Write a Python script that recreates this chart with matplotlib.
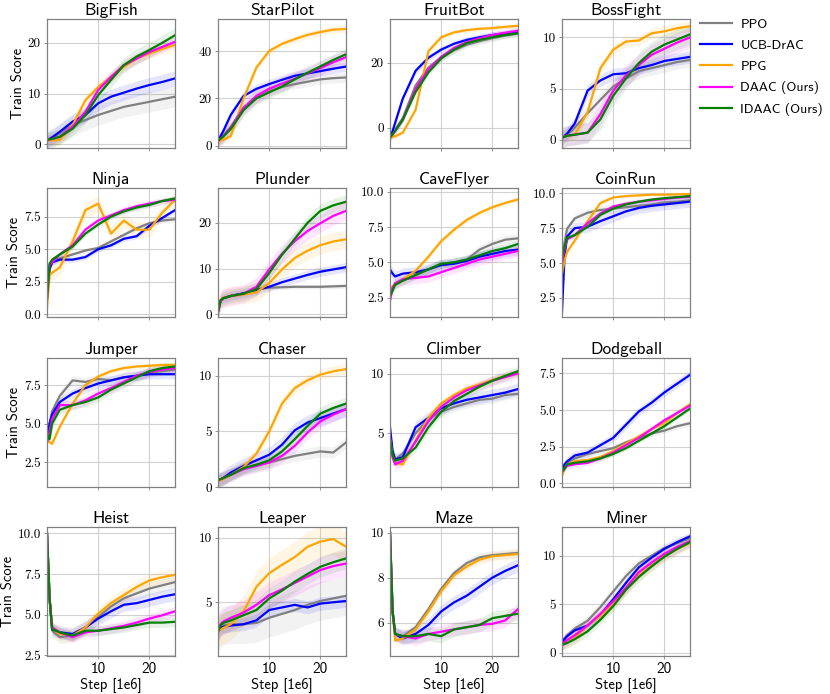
import matplotlib
matplotlib.use("Agg")
import matplotlib.pyplot as plt
import numpy as np

plt.rcParams['axes.unicode_minus'] = False

steps = [0, 0.5, 1, 2.5, 5, 7.5, 10, 12.5, 15, 17.5, 20, 22.5, 25]
methods = ['PPO', 'UCB-DrAC', 'PPG', 'DAAC (Ours)', 'IDAAC (Ours)']
colors = ['gray', 'blue', 'orange', 'magenta', 'green']
games = ['BigFish', 'StarPilot', 'FruitBot', 'BossFight',
         'Ninja', 'Plunder', 'CaveFlyer', 'CoinRun',
         'Jumper', 'Chaser', 'Climber', 'Dodgeball',
         'Heist', 'Leaper', 'Maze', 'Miner']

# mean curves, order: PPO, UCB-DrAC, PPG, DAAC, IDAAC
bigfish = [
    [0.9, 1.0, 1.2, 2.2, 3.8, 4.8, 5.8, 6.6, 7.4, 7.9, 8.4, 8.9, 9.4],
    [0.9, 1.1, 1.4, 2.5, 4.5, 5.8, 8.1, 9.4, 10.2, 11.0, 11.7, 12.3, 13.0],
    [0.8, 0.8, 0.8, 0.9, 3.8, 8.7, 11.3, 13.3, 15.3, 16.9, 17.9, 18.8, 19.6],
    [0.9, 1.0, 1.1, 1.5, 3.5, 6.4, 10.7, 13.3, 15.6, 16.9, 18.2, 19.2, 20.2],
    [0.9, 1.0, 1.1, 1.5, 3.1, 5.8, 9.7, 12.7, 15.6, 17.3, 18.6, 20.0, 21.5]]
starpilot = [
    [2, 3, 4, 8, 16, 20, 23, 24.8, 26, 27, 28, 28.5, 28.8],
    [2, 4, 6, 13, 21, 24, 26, 27.8, 29.5, 30.5, 31.5, 32.5, 33.4],
    [2, 2.2, 2.5, 4, 20, 33, 40, 43, 45, 46.8, 48, 49, 49.3],
    [2, 3, 4, 7.5, 16, 21, 24, 26.2, 28.3, 30.5, 32.8, 35.2, 37.4],
    [2, 3, 3.8, 7, 15, 20, 22.5, 25, 28, 30.8, 33.5, 36.2, 38.6]]
fruitbot = [
    [-3, -2, -0.5, 3, 13, 18.5, 21.5, 23.8, 25.5, 26.6, 27.5, 28.3, 29],
    [-3, -1, 1.5, 9, 17.5, 21.5, 24, 25.8, 27, 27.8, 28.5, 29, 29.5],
    [-3, -2.8, -2.6, -1.5, 5.5, 23.5, 27.8, 29.3, 30, 30.4, 30.6, 31, 31.3],
    [-3, -2, -1, 2.5, 12, 18, 21.8, 24.5, 26.3, 27.5, 28.5, 29.2, 29.8],
    [-3, -2, -1, 2.5, 11, 17, 21.3, 24, 26, 27, 27.8, 28.5, 29]]
bossfight = [
    [0.3, 0.4, 0.5, 1.2, 2.6, 3.9, 5.2, 6.0, 6.7, 7.0, 7.3, 7.6, 7.8],
    [0.3, 0.4, 0.6, 1.6, 4.8, 5.8, 6.4, 6.5, 7.0, 7.3, 7.7, 7.9, 8.1],
    [0.3, 0.35, 0.4, 0.5, 2.7, 7.0, 8.8, 9.6, 9.7, 10.4, 10.6, 10.9, 11.1],
    [0.2, 0.3, 0.4, 0.5, 0.7, 2.5, 4.8, 6.3, 7.3, 8.3, 8.9, 9.5, 10.0],
    [0.2, 0.3, 0.4, 0.5, 0.7, 2.0, 4.3, 6.0, 7.5, 8.6, 9.3, 9.8, 10.3]]
ninja = [
    [1.2, 3.5, 4.0, 4.3, 4.6, 4.9, 5.1, 5.6, 6.1, 6.6, 7.0, 7.2, 7.3],
    [1.2, 3.5, 4.0, 4.2, 4.2, 4.4, 5.0, 5.3, 5.8, 6.0, 6.8, 7.4, 8.0],
    [0.5, 3.0, 3.2, 3.6, 5.6, 8.0, 8.5, 6.2, 7.2, 6.5, 6.5, 7.8, 8.8],
    [1.2, 3.8, 4.0, 4.6, 5.3, 6.5, 7.2, 7.6, 8.0, 8.3, 8.5, 8.7, 8.8],
    [1.2, 3.9, 4.2, 4.6, 5.2, 6.2, 6.9, 7.5, 7.9, 8.2, 8.4, 8.7, 8.9]]
plunder = [
    [0.5, 3.0, 3.5, 4.0, 4.5, 5.5, 5.8, 5.9, 6.0, 6.0, 6.0, 6.1, 6.2],
    [0.5, 3.0, 3.5, 4.0, 4.6, 5.3, 6.0, 7.0, 7.8, 8.6, 9.3, 9.8, 10.3],
    [0.5, 3.2, 3.6, 4.0, 4.3, 4.8, 6.8, 9.8, 12.3, 13.9, 15.1, 15.9, 16.4],
    [0.5, 3.0, 3.5, 4.0, 4.5, 6.0, 9.8, 13.2, 16.0, 18.2, 19.9, 21.5, 22.6],
    [0.5, 3.0, 3.5, 4.0, 4.5, 5.5, 9.0, 13.0, 16.5, 20.0, 22.6, 23.8, 24.6]]
caveflyer = [
    [2.7, 3.2, 3.5, 3.7, 4.1, 4.5, 4.9, 5.0, 5.2, 5.9, 6.3, 6.6, 6.7],
    [4.5, 4.2, 4.0, 4.2, 4.3, 4.5, 4.8, 4.9, 5.1, 5.4, 5.6, 5.8, 5.9],
    [3.0, 3.3, 3.5, 3.8, 4.4, 5.4, 6.5, 7.3, 8.0, 8.5, 8.9, 9.2, 9.45],
    [2.3, 3.2, 3.5, 3.8, 3.9, 4.0, 4.3, 4.6, 4.9, 5.2, 5.4, 5.6, 5.8],
    [2.6, 3.0, 3.4, 3.7, 4.1, 4.5, 4.9, 5.0, 5.2, 5.5, 5.8, 6.0, 6.3]]
coinrun = [
    [5.3, 6.5, 7.45, 8.2, 8.6, 8.8, 8.9, 9.0, 9.1, 9.2, 9.35, 9.4, 9.5],
    [1.5, 5.5, 6.9, 7.5, 7.6, 8.0, 8.35, 8.7, 8.95, 9.1, 9.2, 9.3, 9.4],
    [4.2, 5.2, 5.8, 6.6, 8.0, 9.3, 9.7, 9.8, 9.85, 9.9, 9.9, 9.92, 9.95],
    [5.0, 6.0, 6.7, 7.0, 7.85, 8.55, 9.05, 9.25, 9.4, 9.5, 9.6, 9.7, 9.75],
    [5.3, 6.2, 6.8, 7.0, 7.6, 8.45, 8.9, 9.2, 9.4, 9.55, 9.65, 9.72, 9.8]]
jumper = [
    [4.0, 5.0, 5.8, 6.8, 7.8, 7.7, 7.9, 7.8, 8.0, 8.1, 8.3, 8.4, 8.5],
    [4.0, 5.0, 5.6, 6.4, 6.95, 7.3, 7.6, 7.8, 8.0, 8.1, 8.2, 8.2, 8.2],
    [4.0, 3.8, 3.7, 4.8, 6.3, 7.5, 8.05, 8.4, 8.6, 8.7, 8.75, 8.8, 8.8],
    [3.8, 4.5, 5.3, 6.2, 6.2, 6.5, 6.95, 7.3, 7.7, 8.1, 8.35, 8.5, 8.6],
    [4.3, 4.0, 5.0, 5.9, 6.2, 6.4, 6.7, 7.2, 7.6, 8.0, 8.4, 8.6, 8.7]]
chaser = [
    [0.6, 0.7, 0.8, 1.2, 1.7, 2.0, 2.2, 2.5, 2.8, 3.0, 3.2, 3.1, 4.0],
    [0.6, 0.7, 0.8, 1.3, 1.9, 2.4, 2.9, 3.8, 5.1, 5.8, 6.2, 6.6, 7.0],
    [0.6, 0.6, 0.7, 1.1, 1.8, 3.0, 5.0, 7.5, 8.9, 9.6, 10.1, 10.4, 10.6],
    [0.6, 0.7, 0.8, 1.1, 1.6, 1.9, 2.2, 2.8, 3.7, 4.9, 5.9, 6.5, 7.0],
    [0.6, 0.7, 0.8, 1.1, 1.7, 2.0, 2.4, 3.2, 4.3, 5.5, 6.6, 7.1, 7.5]]
climber = [
    [5.0, 3.5, 2.8, 3.3, 5.0, 6.2, 6.8, 7.2, 7.5, 7.8, 7.9, 8.2, 8.3],
    [5.5, 3.5, 2.8, 3.0, 5.5, 6.3, 7.1, 7.5, 7.8, 8.0, 8.2, 8.4, 8.7],
    [4.5, 3.0, 2.5, 2.4, 4.4, 6.3, 7.5, 8.2, 8.75, 9.1, 9.45, 9.8, 10.1],
    [4.5, 3.0, 2.4, 2.7, 4.3, 6.0, 7.2, 8.0, 8.6, 9.0, 9.4, 9.7, 10.0],
    [4.5, 3.2, 2.7, 2.9, 3.8, 5.5, 6.8, 7.7, 8.3, 8.9, 9.4, 9.8, 10.2]]
dodgeball = [
    [0.9, 1.2, 1.4, 1.7, 2.0, 2.2, 2.4, 2.8, 3.1, 3.4, 3.6, 3.9, 4.1],
    [0.9, 1.3, 1.5, 1.9, 2.1, 2.6, 3.1, 4.0, 4.9, 5.5, 6.2, 6.8, 7.4],
    [0.5, 1.0, 1.3, 1.5, 1.6, 1.8, 2.2, 2.7, 3.2, 3.7, 4.1, 4.8, 5.4],
    [0.8, 1.0, 1.2, 1.3, 1.4, 1.7, 2.1, 2.6, 3.1, 3.7, 4.3, 4.8, 5.3],
    [0.8, 1.0, 1.3, 1.4, 1.5, 1.7, 2.0, 2.4, 2.9, 3.4, 3.9, 4.5, 5.1]]
heist = [
    [10, 6.0, 4.0, 3.6, 3.7, 4.2, 4.85, 5.5, 6.0, 6.3, 6.6, 6.8, 7.0],
    [10, 6.0, 4.1, 3.9, 3.8, 4.2, 4.75, 5.2, 5.6, 5.7, 5.9, 6.1, 6.25],
    [10, 6.0, 4.2, 3.8, 3.7, 4.2, 5.05, 5.7, 6.2, 6.7, 7.1, 7.3, 7.45],
    [10, 6.0, 4.2, 3.9, 3.6, 3.9, 4.0, 4.15, 4.3, 4.5, 4.75, 4.95, 5.2],
    [10, 6.0, 4.1, 3.9, 3.7, 4.0, 4.0, 4.1, 4.2, 4.35, 4.5, 4.5, 4.55]]
leaper = [
    [2.7, 3.0, 3.2, 3.3, 3.3, 3.4, 3.8, 4.1, 4.4, 4.8, 5.1, 5.3, 5.5],
    [2.7, 3.0, 3.1, 3.2, 3.3, 3.6, 4.4, 4.6, 4.8, 4.6, 4.9, 5.0, 5.1],
    [2.7, 2.9, 3.0, 3.3, 4.3, 6.2, 7.25, 7.9, 8.5, 9.3, 9.7, 9.9, 9.3],
    [2.9, 3.3, 3.5, 3.8, 4.2, 4.8, 5.55, 6.0, 6.5, 7.0, 7.5, 7.8, 8.0],
    [2.7, 3.2, 3.4, 3.6, 4.0, 4.4, 5.3, 5.9, 6.6, 7.2, 7.75, 8.1, 8.4]]
maze = [
    [10, 6.5, 5.5, 5.4, 5.8, 6.6, 7.5, 8.2, 8.65, 8.9, 9.0, 9.05, 9.1],
    [10, 6.5, 5.5, 5.3, 5.5, 5.9, 6.5, 6.9, 7.2, 7.6, 8.0, 8.3, 8.55],
    [10, 6.5, 5.2, 5.3, 5.7, 6.5, 7.4, 8.1, 8.5, 8.8, 8.95, 9.0, 9.05],
    [10, 6.5, 5.5, 5.4, 5.3, 5.5, 5.6, 5.7, 5.8, 5.9, 5.95, 6.1, 6.6],
    [10, 6.5, 5.5, 5.4, 5.4, 5.5, 5.4, 5.7, 5.8, 5.9, 6.2, 6.3, 6.4]]
miner = [
    [1.0, 1.5, 1.8, 2.5, 3.3, 4.7, 6.3, 7.9, 9.2, 10.0, 10.8, 11.3, 11.8],
    [1.0, 1.4, 1.7, 2.3, 2.8, 3.9, 5.5, 7.2, 8.8, 9.8, 10.7, 11.4, 12.0],
    [0.9, 1.0, 1.1, 1.5, 2.8, 3.8, 5.0, 6.5, 8.0, 9.0, 10.0, 10.7, 11.3],
    [0.8, 1.1, 1.3, 1.8, 2.8, 4.0, 5.3, 6.7, 8.3, 9.3, 10.2, 10.9, 11.5],
    [0.8, 0.9, 1.0, 1.4, 2.2, 3.4, 4.8, 6.5, 7.8, 8.9, 9.9, 10.7, 11.4]]

# half-width of the shaded band per method
bigfish_std = [2.0, 1.5, 1.0, 1.0, 1.5]
starpilot_std = [2.0, 2.0, 1.5, 3.0, 2.5]
fruitbot_std = [1.0, 1.0, 0.7, 1.0, 1.0]
bossfight_std = [0.7, 0.6, 0.5, 1.0, 1.0]
ninja_std = [0.2, 0.2, 0.6, 0.25, 0.2]
plunder_std = [0.5, 1.0, 2.0, 2.0, 1.5]
caveflyer_std = [0.3, 0.4, 0.2, 0.4, 0.3]
coinrun_std = [0.3, 0.4, 0.1, 0.2, 0.1]
jumper_std = [0.3, 0.3, 0.15, 0.3, 0.3]
chaser_std = [0.5, 0.7, 0.5, 0.6, 0.6]
climber_std = [0.4, 0.5, 0.3, 0.4, 0.4]
dodgeball_std = [0.2, 0.3, 0.15, 0.2, 0.15]
heist_std = [0.4, 0.4, 0.4, 0.3, 0.3]
leaper_std = [1.5, 0.5, 1.2, 1.0, 0.8]
maze_std = [0.2, 0.3, 0.2, 0.3, 0.3]
miner_std = [0.5, 0.4, 0.6, 0.6, 0.5]

yticks = [[0, 10, 20], [0, 20, 40], [0, 20], [0, 5, 10],
          [0.0, 2.5, 5.0, 7.5], [0, 10, 20], [2.5, 5.0, 7.5, 10.0], [2.5, 5.0, 7.5, 10.0],
          [2.5, 5.0, 7.5], [0, 5, 10], [5, 10], [0.0, 2.5, 5.0, 7.5],
          [2.5, 5.0, 7.5, 10.0], [5, 10], [6, 8, 10], [0, 5, 10]]
ylims = [(-0.7, 24.7), (-1, 53.5), (-6.2, 33.4), (-0.8, 11.8),
         (-0.2, 9.7), (-0.6, 27.6), (1.13, 10.26), (1.12, 10.38),
         (0.9, 9.25), (0.0, 11.6), (0.5, 11.3), (-0.25, 8.55),
         (2.44, 10.4), (0.84, 10.83), (4.52, 10.25), (-0.34, 12.96)]

means = [bigfish, starpilot, fruitbot, bossfight, ninja, plunder, caveflyer, coinrun,
         jumper, chaser, climber, dodgeball, heist, leaper, maze, miner]
stds = [bigfish_std, starpilot_std, fruitbot_std, bossfight_std, ninja_std, plunder_std,
        caveflyer_std, coinrun_std, jumper_std, chaser_std, climber_std, dodgeball_std,
        heist_std, leaper_std, maze_std, miner_std]

W, H = 830, 694
fig = plt.figure(figsize=(W / 100, H / 100), dpi=100)
col_left = [47, 218, 390, 562]
row_top = [19, 188, 358, 527]
aw, ah = 128, 129

x = np.array(steps)
lines = []
for i, game in enumerate(games):
    r, c = divmod(i, 4)
    ax = fig.add_axes([col_left[c] / W, 1 - (row_top[r] + ah) / H, aw / W, ah / H])
    for m in range(5):
        y = np.array(means[i][m])
        s = stds[i][m]
        ax.fill_between(x, y - s, y + s, color=colors[m], alpha=0.1, linewidth=0)
        ln, = ax.plot(x, y, color=colors[m], linewidth=1.6)
        if i == 0:
            lines.append(ln)
    ax.set_xlim(0, 25)
    ax.set_ylim(*ylims[i])
    ax.set_xticks([10, 20])
    ax.set_yticks(yticks[i])
    ax.set_yticklabels([str(t) for t in yticks[i]], fontfamily='cmr10', fontsize=9.5)
    if r == 3:
        ax.set_xticklabels(['10', '20'], fontfamily='cmss10', fontsize=11)
        ax.set_xlabel('Step [1e6]', fontfamily='cmss10', fontsize=10.5, labelpad=1)
    else:
        ax.set_xticklabels([])
    if c == 0:
        ax.set_ylabel('Train Score', fontfamily='cmss10', fontsize=10.5, labelpad=2)
    ax.set_title(game, fontfamily='cmss10', fontsize=12.5, pad=3)
    ax.grid(True, color='0.82', linewidth=0.8)
    ax.set_axisbelow(True)
    ax.tick_params(length=2.5, width=0.6, color='0.5', pad=2)
    for sp in ax.spines.values():
        sp.set_color('0.5')
        sp.set_linewidth(0.9)

fig.legend(lines, methods, loc='upper left', bbox_to_anchor=(690 / W, 1 - 9 / H),
           frameon=False, prop={'family': 'cmss10', 'size': 9.8},
           handlelength=2.4, handletextpad=0.6, labelspacing=0.62,
           borderaxespad=0.3)

fig.savefig('out.png', dpi=100)
